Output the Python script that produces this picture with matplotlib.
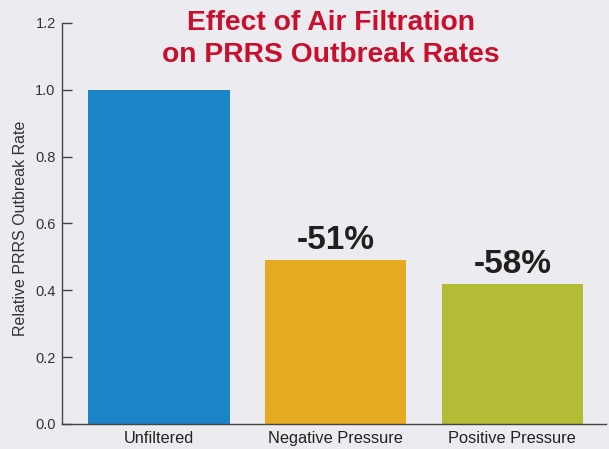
import matplotlib
matplotlib.use('Agg')
import matplotlib.pyplot as plt

# Data
CATEGORIES = ['Unfiltered', 'Negative Pressure', 'Positive Pressure']
RATES = [1.0, 0.49, 0.42]
LABELS = ['', '-51%', '-58%']
COLORS = ['#1b84c6', '#e6aa22', '#b3bc35']
YTICKS = [0.0, 0.2, 0.4, 0.6, 0.8, 1.0, 1.2]
BG = '#ecebef'

plt.rcParams['font.family'] = ['Liberation Sans', 'DejaVu Sans']

fig = plt.figure(figsize=(6.09, 4.49), dpi=100, facecolor=BG)
ax = fig.add_axes([0.1018, 0.0557, 0.893, 0.8931])
ax.set_facecolor(BG)

x = range(len(CATEGORIES))
bars = ax.bar(x, RATES, width=0.8, color=COLORS)

# percentage change labels
for b, lab in zip(bars, LABELS):
    if lab:
        ax.text(b.get_x() + b.get_width() / 2, b.get_height() + 0.012, lab,
                ha='center', va='bottom', fontsize=24, fontweight='bold', color='#231f20')

ax.set_xlim(-0.55, 2.53)
ax.set_ylim(0, 1.2)
ax.set_yticks(YTICKS)
ax.set_yticklabels(['%.1f' % t for t in YTICKS], fontsize=10.5, color='#333333')
ax.set_xticks(list(x))
ax.set_xticklabels(CATEGORIES, fontsize=11.8, color='#222222')
ax.tick_params(axis='y', direction='in', length=7, width=1, color='#444444', pad=4.5)
ax.tick_params(axis='x', length=0, pad=5)

for s in ['top', 'right']:
    ax.spines[s].set_visible(False)
for s in ['left', 'bottom']:
    ax.spines[s].set_color('#444444')
    ax.spines[s].set_linewidth(1)

ax.set_ylabel('Relative PRRS Outbreak Rate', fontsize=11.5, color='#333333')
ax.yaxis.set_label_coords(-0.0625, 0.489)

fig.text(0.543, 0.914, 'Effect of Air Filtration\non PRRS Outbreak Rates',
         ha='center', va='center', fontsize=20.3, fontweight='bold', color='#c8102e',
         linespacing=1.3)

fig.savefig('out.png', dpi=100, facecolor=BG)
